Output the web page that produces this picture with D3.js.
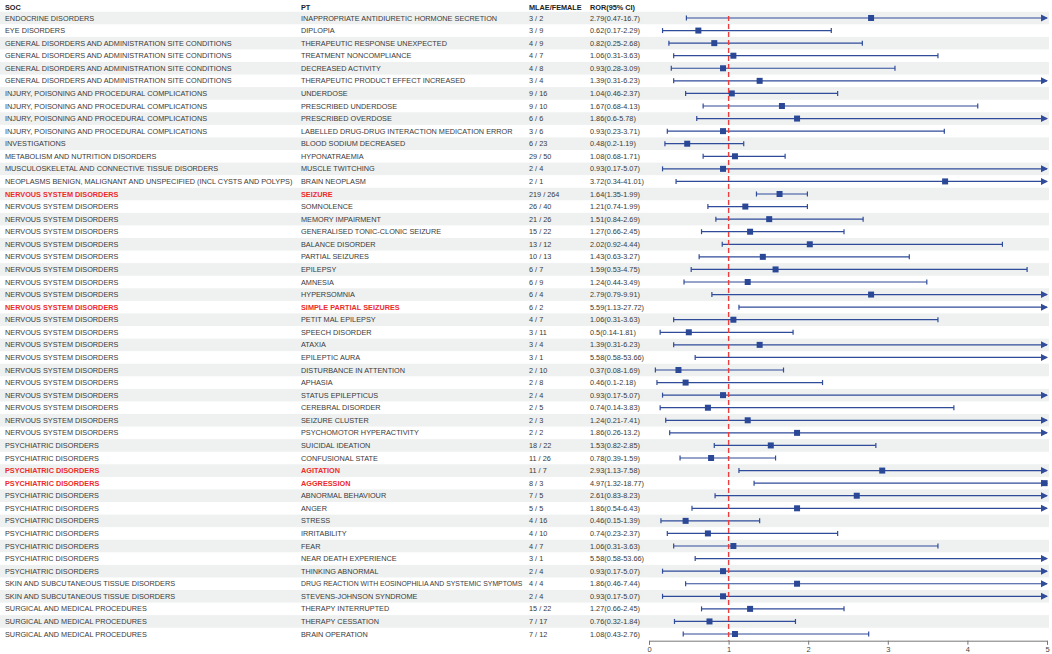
<!DOCTYPE html>
<html lang="en">

<head>
	<meta charset="UTF-8">
	<title>Forest Plot</title>
	<script src="https://d3js.org/d3.v7.min.js"></script>
	<style>
		body {
			margin: 0;
			background: #fff;
		}

		text {
			font-family: "Liberation Sans", Arial, sans-serif;
			font-size: 7.3px;
			fill: #3a3a3a;
		}

		.hdr {
			font-weight: bold;
			fill: #222;
		}

		.hl {
			font-weight: bold;
			fill: #ee2b2b;
		}

		.ci {
			stroke: #2f4b9a;
			stroke-width: 1.2px;
		}
	</style>
</head>

<body>
	<script>
		const width = 1052;
		const height = 654;

		const soc = [
			"ENDOCRINE DISORDERS", "EYE DISORDERS",
			"GENERAL DISORDERS AND ADMINISTRATION SITE CONDITIONS", "GENERAL DISORDERS AND ADMINISTRATION SITE CONDITIONS",
			"GENERAL DISORDERS AND ADMINISTRATION SITE CONDITIONS", "GENERAL DISORDERS AND ADMINISTRATION SITE CONDITIONS",
			"INJURY, POISONING AND PROCEDURAL COMPLICATIONS", "INJURY, POISONING AND PROCEDURAL COMPLICATIONS",
			"INJURY, POISONING AND PROCEDURAL COMPLICATIONS", "INJURY, POISONING AND PROCEDURAL COMPLICATIONS",
			"INVESTIGATIONS", "METABOLISM AND NUTRITION DISORDERS", "MUSCULOSKELETAL AND CONNECTIVE TISSUE DISORDERS",
			"NEOPLASMS BENIGN, MALIGNANT AND UNSPECIFIED (INCL CYSTS AND POLYPS)",
			"NERVOUS SYSTEM DISORDERS", "NERVOUS SYSTEM DISORDERS", "NERVOUS SYSTEM DISORDERS", "NERVOUS SYSTEM DISORDERS",
			"NERVOUS SYSTEM DISORDERS", "NERVOUS SYSTEM DISORDERS", "NERVOUS SYSTEM DISORDERS", "NERVOUS SYSTEM DISORDERS",
			"NERVOUS SYSTEM DISORDERS", "NERVOUS SYSTEM DISORDERS", "NERVOUS SYSTEM DISORDERS", "NERVOUS SYSTEM DISORDERS",
			"NERVOUS SYSTEM DISORDERS", "NERVOUS SYSTEM DISORDERS", "NERVOUS SYSTEM DISORDERS", "NERVOUS SYSTEM DISORDERS",
			"NERVOUS SYSTEM DISORDERS", "NERVOUS SYSTEM DISORDERS", "NERVOUS SYSTEM DISORDERS", "NERVOUS SYSTEM DISORDERS",
			"PSYCHIATRIC DISORDERS", "PSYCHIATRIC DISORDERS", "PSYCHIATRIC DISORDERS", "PSYCHIATRIC DISORDERS",
			"PSYCHIATRIC DISORDERS", "PSYCHIATRIC DISORDERS", "PSYCHIATRIC DISORDERS", "PSYCHIATRIC DISORDERS",
			"PSYCHIATRIC DISORDERS", "PSYCHIATRIC DISORDERS", "PSYCHIATRIC DISORDERS",
			"SKIN AND SUBCUTANEOUS TISSUE DISORDERS", "SKIN AND SUBCUTANEOUS TISSUE DISORDERS",
			"SURGICAL AND MEDICAL PROCEDURES", "SURGICAL AND MEDICAL PROCEDURES", "SURGICAL AND MEDICAL PROCEDURES"
		];

		const pt = [
			"INAPPROPRIATE ANTIDIURETIC HORMONE SECRETION", "DIPLOPIA", "THERAPEUTIC RESPONSE UNEXPECTED",
			"TREATMENT NONCOMPLIANCE", "DECREASED ACTIVITY", "THERAPEUTIC PRODUCT EFFECT INCREASED", "UNDERDOSE",
			"PRESCRIBED UNDERDOSE", "PRESCRIBED OVERDOSE", "LABELLED DRUG-DRUG INTERACTION MEDICATION ERROR",
			"BLOOD SODIUM DECREASED", "HYPONATRAEMIA", "MUSCLE TWITCHING", "BRAIN NEOPLASM", "SEIZURE", "SOMNOLENCE",
			"MEMORY IMPAIRMENT", "GENERALISED TONIC-CLONIC SEIZURE", "BALANCE DISORDER", "PARTIAL SEIZURES", "EPILEPSY",
			"AMNESIA", "HYPERSOMNIA", "SIMPLE PARTIAL SEIZURES", "PETIT MAL EPILEPSY", "SPEECH DISORDER", "ATAXIA",
			"EPILEPTIC AURA", "DISTURBANCE IN ATTENTION", "APHASIA", "STATUS EPILEPTICUS", "CEREBRAL DISORDER",
			"SEIZURE CLUSTER", "PSYCHOMOTOR HYPERACTIVITY", "SUICIDAL IDEATION", "CONFUSIONAL STATE", "AGITATION",
			"AGGRESSION", "ABNORMAL BEHAVIOUR", "ANGER", "STRESS", "IRRITABILITY", "FEAR", "NEAR DEATH EXPERIENCE",
			"THINKING ABNORMAL", "DRUG REACTION WITH EOSINOPHILIA AND SYSTEMIC SYMPTOMS", "STEVENS-JOHNSON SYNDROME",
			"THERAPY INTERRUPTED", "THERAPY CESSATION", "BRAIN OPERATION"
		];

		const male = [3, 3, 4, 4, 4, 3, 9, 9, 6, 3, 6, 29, 2, 2, 219, 26, 21, 15, 13, 10, 6, 6, 6, 6, 4, 3, 3, 3, 2, 2, 2, 2, 2, 2,
			18, 11, 11, 8, 7, 5, 4, 4, 4, 3, 2, 4, 2, 15, 7, 7];
		const female = [2, 9, 9, 7, 8, 4, 16, 10, 6, 6, 23, 50, 4, 1, 264, 40, 26, 22, 12, 13, 7, 9, 4, 2, 7, 11, 4, 1, 10, 8, 4, 5, 3, 2,
			22, 26, 7, 3, 5, 5, 16, 10, 7, 1, 4, 4, 4, 22, 17, 12];

		const ror = [2.79, 0.62, 0.82, 1.06, 0.93, 1.39, 1.04, 1.67, 1.86, 0.93, 0.48, 1.08, 0.93, 3.72, 1.64, 1.21, 1.51, 1.27,
			2.02, 1.43, 1.59, 1.24, 2.79, 5.59, 1.06, 0.5, 1.39, 5.58, 0.37, 0.46, 0.93, 0.74, 1.24, 1.86, 1.53, 0.78, 2.93,
			4.97, 2.61, 1.86, 0.46, 0.74, 1.06, 5.58, 0.93, 1.86, 0.93, 1.27, 0.76, 1.08];
		const lower = [0.47, 0.17, 0.25, 0.31, 0.28, 0.31, 0.46, 0.68, 0.6, 0.23, 0.2, 0.68, 0.17, 0.34, 1.35, 0.74, 0.84, 0.66,
			0.92, 0.63, 0.53, 0.44, 0.79, 1.13, 0.31, 0.14, 0.31, 0.58, 0.08, 0.1, 0.17, 0.14, 0.21, 0.26, 0.82, 0.39, 1.13,
			1.32, 0.83, 0.54, 0.15, 0.23, 0.31, 0.58, 0.17, 0.46, 0.17, 0.66, 0.32, 0.43];
		const upper = [16.7, 2.29, 2.68, 3.63, 3.09, 6.23, 2.37, 4.13, 5.78, 3.71, 1.19, 1.71, 5.07, 41.01, 1.99, 1.99, 2.69, 2.45,
			4.44, 3.27, 4.75, 3.49, 9.91, 27.72, 3.63, 1.81, 6.23, 53.66, 1.69, 2.18, 5.07, 3.83, 7.41, 13.2, 2.85, 1.59, 7.58,
			18.77, 8.23, 6.43, 1.39, 2.37, 3.63, 53.66, 5.07, 7.44, 5.07, 2.45, 1.84, 2.76];

		const xTicks = [0, 1, 2, 3, 4, 5];

		const rows = soc.map((s, i) => ({
			soc: s, pt: pt[i], count: `${male[i]} / ${female[i]}`,
			ror: ror[i], lo: lower[i], hi: upper[i],
			label: `${ror[i]}(${lower[i]}-${upper[i]})`,
			sig: lower[i] > 1
		}));

		const svg = d3.select("body").append("svg")
			.attr("width", width)
			.attr("height", height);

		const xMax = 5;
		const x = d3.scaleLinear().domain([0, xMax]).range([649, 1047]);
		const y = d3.scaleBand().domain(d3.range(rows.length)).range([11.7, 640.3]);
		const cy = i => y(i) + y.bandwidth() / 2;

		// zebra bands
		svg.append("g").selectAll("rect")
			.data(d3.range(0, rows.length, 2))
			.enter().append("rect")
			.attr("x", 0)
			.attr("y", i => y(i))
			.attr("width", 1049)
			.attr("height", y.bandwidth())
			.attr("fill", "#eef1f0");

		// header
		const cols = [["SOC", 5], ["PT", 301], ["MLAE/FEMALE", 529], ["ROR(95% CI)", 590]];
		svg.append("g").selectAll("text")
			.data(cols)
			.enter().append("text")
			.attr("class", "hdr")
			.attr("x", d => d[1])
			.attr("y", 7)
			.attr("dy", "0.35em")
			.text(d => d[0]);

		// table text
		const row = svg.append("g").selectAll("g")
			.data(rows)
			.enter().append("g")
			.attr("transform", (d, i) => `translate(0,${cy(i)})`);

		row.append("text").attr("x", 5).attr("dy", "0.35em")
			.attr("class", d => d.sig ? "hl" : null).text(d => d.soc);
		row.append("text").attr("x", 301).attr("dy", "0.35em")
			.attr("class", d => d.sig ? "hl" : null).text(d => d.pt)
			.each(function () {
				// shrink long PT labels to fit their column
				const w = this.getComputedTextLength();
				if (w > 222) d3.select(this).style("font-size", (7.3 * 222 / w) + "px");
			});
		row.append("text").attr("x", 529).attr("dy", "0.35em").text(d => d.count);
		row.append("text").attr("x", 590).attr("dy", "0.35em").text(d => d.label);

		// reference line at 1
		svg.append("line")
			.attr("x1", x(1)).attr("x2", x(1))
			.attr("y1", 16).attr("y2", 640.5)
			.attr("stroke", "#ee3b3b")
			.attr("stroke-width", 1.4)
			.attr("stroke-dasharray", "5,3");

		// CI
		const ci = row.append("g");
		ci.append("line").attr("class", "ci")
			.attr("x1", d => x(d.lo))
			.attr("x2", d => x(Math.min(d.hi, xMax)));
		ci.append("line").attr("class", "ci")
			.attr("x1", d => x(d.lo)).attr("x2", d => x(d.lo))
			.attr("y1", -2.5).attr("y2", 2.5);
		ci.filter(d => d.hi <= xMax).append("line").attr("class", "ci")
			.attr("x1", d => x(d.hi)).attr("x2", d => x(d.hi))
			.attr("y1", -2.5).attr("y2", 2.5);
		ci.filter(d => d.hi > xMax).append("path")
			.attr("d", `M${x(xMax) - 6},-3.5L${x(xMax) + 1},0L${x(xMax) - 6},3.5Z`)
			.attr("fill", "#2f4b9a");
		ci.filter(d => d.ror <= xMax).append("rect")
			.attr("x", d => x(d.ror) - 3)
			.attr("y", -3)
			.attr("width", 6)
			.attr("height", 6)
			.attr("fill", "#2a4896");

		// axis
		const axis = svg.append("g")
			.attr("transform", "translate(0,640.7)")
			.call(d3.axisBottom(x).tickValues(xTicks).tickSize(4).tickFormat(d3.format("d")));
		axis.select(".domain").attr("stroke", "#777");
		axis.selectAll(".tick line").attr("stroke", "#777");
		axis.selectAll(".tick text")
			.attr("y", 6)
			.style("font-family", "'Liberation Sans', Arial, sans-serif")
			.style("font-size", "7.5px")
			.style("fill", "#444");
	</script>
</body>

</html>
